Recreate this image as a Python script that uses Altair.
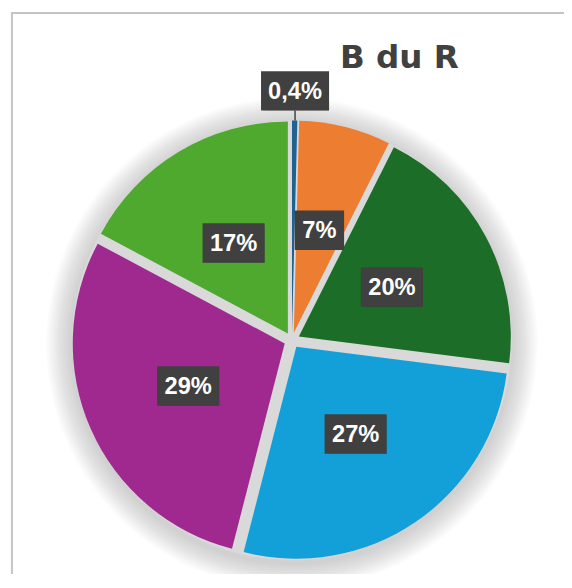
import math
import altair as alt
import pandas as pd

# ---- data ----
categories = ["Série 1", "Série 2", "Série 3", "Série 4", "Série 5", "Série 6"]
values = [0.4, 7.0, 19.6, 27.0, 28.8, 17.2]
labels = ["0,4%", "7%", "20%", "27%", "29%", "17%"]
colors = ["#1f6191", "#ed7d31", "#1b6d27", "#139fd7", "#a0298f", "#4fa92f"]
title_text = "B du R"

# ---- layout (view pixels) ----
W, H = 560, 565
CX, CY = 284, 332
R = 215          # slice radius
D = 8            # explosion offset
LR_IN, LR_OUT = 115, 253

df = pd.DataFrame({"cat": categories, "value": values, "label": labels,
                   "order": list(range(len(values)))})

xs = alt.Scale(domain=[0, W], nice=False, zero=False)
ys = alt.Scale(domain=[H, 0], nice=False, zero=False)

base = (
    alt.Chart(df)
    .transform_window(cum="sum(value)", sort=[alt.SortField("order")], frame=[None, 0])
    .transform_joinaggregate(total="sum(value)")
    .transform_calculate(
        start="2*PI*(datum.cum - datum.value)/datum.total",
        end="2*PI*datum.cum/datum.total",
    )
    .transform_calculate(mid="(datum.start + datum.end)/2")
    .transform_calculate(
        sx=f"{CX} + {D}*sin(datum.mid)",
        sy=f"{CY} - {D}*cos(datum.mid)",
        lr=f"datum.value < 1 ? {LR_OUT} : {LR_IN}",
        bw="24 + 13*length(datum.label) - (indexof(datum.label, ',') >= 0 ? 7 : 0)",
    )
    .transform_calculate(
        px=f"{CX} + datum.lr*sin(datum.mid)",
        py=f"{CY} - datum.lr*cos(datum.mid)",
    )
    .transform_calculate(
        bx1="datum.px - datum.bw/2",
        bx2="datum.px + datum.bw/2",
        by1="datum.py - 20",
        by2="datum.py + 20",
        ly1="datum.py + 20",
        ly2=f"{CY} - {R + D}*cos(datum.mid)",
    )
)

one = pd.DataFrame({"a": [0]})

# soft shadow / halo behind the pie
halo_layers = [
    alt.Chart(one).mark_arc(theta=0, theta2=2 * math.pi, outerRadius=R + D + 2 * k,
                            color="#9a9a9a", opacity=0.035).encode(
        x=alt.value(CX), y=alt.value(CY + 3))
    for k in range(1, 14)
]
disk = alt.Chart(one).mark_arc(theta=0, theta2=2 * math.pi, outerRadius=R + D,
                               color="#d9d9d9").encode(x=alt.value(CX), y=alt.value(CY))

slices = base.mark_arc(outerRadius=R, innerRadius=0).encode(
    x=alt.X("sx:Q", scale=xs, axis=None),
    y=alt.Y("sy:Q", scale=ys, axis=None),
    theta=alt.Theta("start:Q", scale=None),
    theta2="end:Q",
    color=alt.Color("cat:N", scale=alt.Scale(domain=categories, range=colors), legend=None),
)

shadow1 = base.mark_rect(color="#000000", opacity=0.18).encode(
    x=alt.X("bx1:Q", scale=xs, axis=None), x2="bx2:Q",
    y=alt.Y("by1:Q", scale=ys, axis=None), y2="by2:Q",
    xOffset=alt.value(3), yOffset=alt.value(3),
)
shadow2 = base.mark_rect(color="#000000", opacity=0.1).encode(
    x=alt.X("bx1:Q", scale=xs, axis=None), x2="bx2:Q",
    y=alt.Y("by1:Q", scale=ys, axis=None), y2="by2:Q",
    xOffset=alt.value(5), yOffset=alt.value(5),
)
boxes = base.mark_rect(color="#404040").encode(
    x=alt.X("bx1:Q", scale=xs, axis=None), x2="bx2:Q",
    y=alt.Y("by1:Q", scale=ys, axis=None), y2="by2:Q",
)
leader = base.transform_filter("datum.value < 1").mark_rule(color="#404040", strokeWidth=1.5).encode(
    x=alt.X("px:Q", scale=xs, axis=None),
    y=alt.Y("ly1:Q", scale=ys, axis=None), y2="ly2:Q",
)
texts = base.mark_text(font="Liberation Sans", fontSize=24, fontWeight="bold", color="white",
                       align="center", baseline="middle", dy=1).encode(
    x=alt.X("px:Q", scale=xs, axis=None),
    y=alt.Y("py:Q", scale=ys, axis=None),
    text="label:N",
)

title = alt.Chart(pd.DataFrame({"t": [title_text]})).mark_text(
    font="DejaVu Sans", fontSize=33, fontWeight="bold", color="#404040",
    align="center", baseline="alphabetic").encode(
    x=alt.value(393), y=alt.value(56), text="t:N"
)

frame_top = alt.Chart(one).mark_rule(color="#c4c4c4", strokeWidth=2).encode(
    x=alt.value(-1), x2=alt.value(W + 20), y=alt.value(0)
)
frame_left = alt.Chart(one).mark_rule(color="#c4c4c4", strokeWidth=2).encode(
    x=alt.value(0), y=alt.value(-1), y2=alt.value(H + 20)
)

chart = (
    alt.layer(frame_top, frame_left, *halo_layers, disk, slices, shadow2, shadow1, boxes,
              leader, texts, title)
    .properties(width=W, height=H, autosize="none",
                padding={"left": 4, "top": 1, "right": 0, "bottom": 0})
    .configure_view(stroke=None)
)

chart.save("out.html", embed_options={"renderer": "svg", "actions": False})
